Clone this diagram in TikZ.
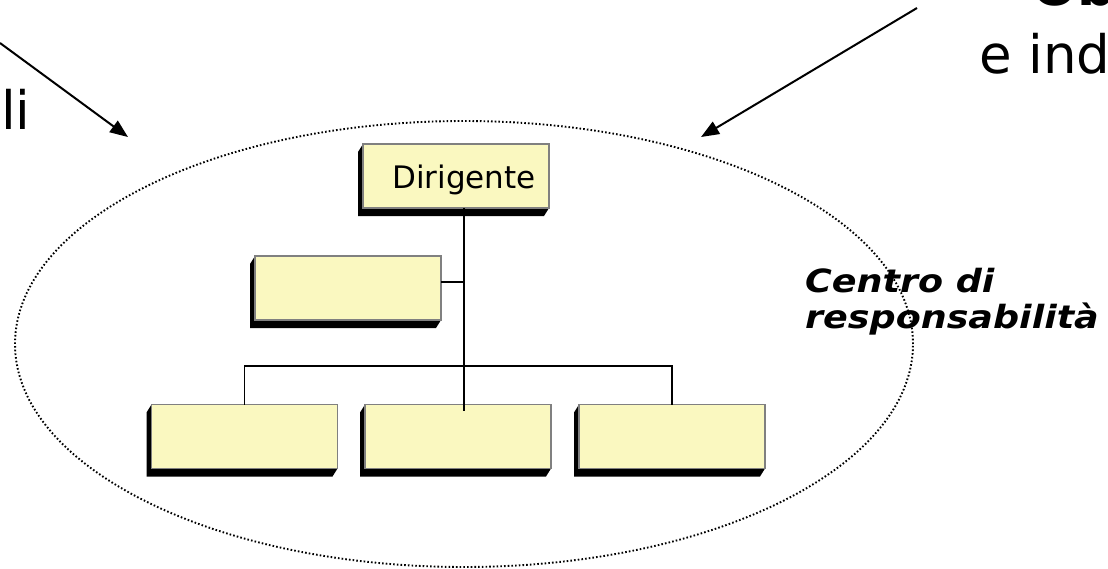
\documentclass[tikz,border=0pt]{standalone}
\usepackage{fontspec}
\setmainfont{DejaVu Sans}
\newfontfamily\centrofont{DejaVu Sans}[FakeStretch=1.14]
\usetikzlibrary{arrows.meta,backgrounds,calc}
\definecolor{boxfill}{RGB}{250,248,192}
\definecolor{boxline}{RGB}{128,128,128}
\tikzset{
  ybox/.style={draw=boxline, line width=1.8pt, fill=boxfill, minimum width=186pt, minimum height=64pt, inner sep=0pt, outer sep=0pt},
  link/.style={line width=1.6pt, draw=black},
  bigarrow/.style={line width=2pt, draw=black, -{Triangle[length=18pt,width=14pt]}},
  bigtext/.style={font=\fontsize{53}{64}\selectfont, inner sep=0pt, anchor=base west},
  dotring/.style={line width=1.9pt, dash pattern=on 1.6pt off 2.1pt, draw=black},
}
\begin{document}
\begin{tikzpicture}[x=1pt,y=-1pt]
\path[use as bounding box] (0,0) rectangle (1108,568);
\clip (0,0) rectangle (1108,568);

% ring
\coordinate (ctr) at (464,344);
\draw[dotring] (ctr) ellipse [x radius=449pt, y radius=223pt];

% boxes
\node[ybox, text height=31pt, text depth=7pt, font=\fontsize{31}{37}\selectfont] (dir) at (456,176) {\hspace*{16pt}Dirigente};
\node[ybox] (mid) at (348,288) {};
\node[ybox] (b1) at (244.5,436.5) {};
\node[ybox] (b2) at (458,436.5) {};
\node[ybox] (b3) at (672,436.5) {};

\begin{scope}[on background layer]
\foreach \n in {dir,mid,b1,b2,b3}
  \fill[black] (\n.north west) -- ++(-5,8) -- ($(\n.south west)+(-5,8)$) -- ($(\n.south east)+(-5,8)$) -- (\n.south east) -- cycle;
\end{scope}

% connectors
\coordinate (trunk) at ($(dir.south)+(8,0)$);
\draw[link] (trunk) -- ($(trunk |- b2.north)+(0,6)$);
\draw[link] ($(mid.east)+(0,-6)$) -- ($(mid.east -| trunk)+(0,-6)$);
\coordinate (bar) at (0,366);
\draw[link] (b1.north) -- (b1.north |- bar) -- (b3.north |- bar) -- (b3.north);

% arrows
\coordinate (la0) at (0,43);
\coordinate (la1) at (128,137);
\draw[bigarrow] (la0) -- (la1);
\coordinate (ra0) at (917,8);
\coordinate (ra1) at (701,137);
\draw[bigarrow] (ra0) -- (ra1);

% texts
\node[bigtext] (li) at (1,129) {li};
\node[bigtext] (eind) at (979,73) {e ind};
\node[bigtext, font=\fontsize{53}{64}\selectfont\bfseries] (ob) at (1032,5) {Ob};
\node[anchor=base west, inner sep=0pt, align=left, font=\centrofont\bfseries\itshape\fontsize{32}{36}\selectfont] (crs) at (805,328) {Centro di\\responsabilità};
\end{tikzpicture}
\end{document}
